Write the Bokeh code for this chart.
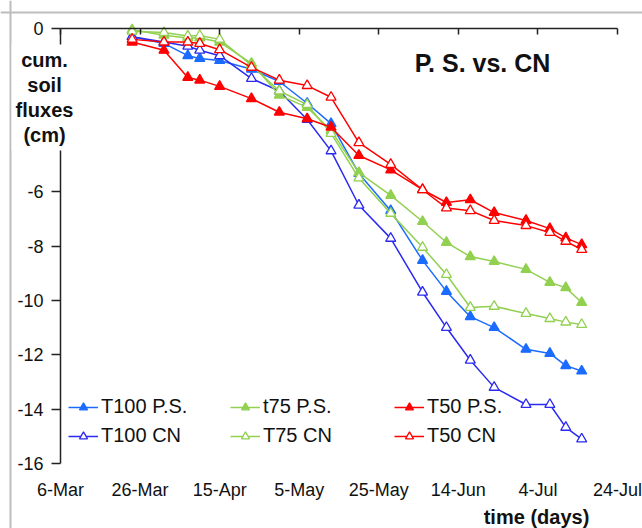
from datetime import datetime
from bokeh.plotting import figure
from bokeh.models import (Range1d, FixedTicker, LinearAxis, DatetimeAxis, Label,
                          Legend, LegendItem, Span)
from bokeh.embed import file_html
from bokeh.resources import INLINE

# ---------------- data ----------------
dates = ["2010-03-24", "2010-04-01", "2010-04-07", "2010-04-10", "2010-04-15",
         "2010-04-23", "2010-04-30", "2010-05-07", "2010-05-13", "2010-05-20",
         "2010-05-28", "2010-06-05", "2010-06-11", "2010-06-17", "2010-06-23",
         "2010-07-01", "2010-07-07", "2010-07-11", "2010-07-15"]

t100_ps = [-0.3, -0.55, -1.0, -1.1, -1.18, -1.5, -1.95, -2.75, -3.5, -5.33,
           -6.7, -8.53, -9.67, -10.6, -11.0, -11.8, -11.95, -12.4, -12.6]
t100_cn = [-0.3, -0.5, -0.65, -0.8, -1.0, -1.84, -2.3, -3.35, -4.5, -6.5,
           -7.72, -9.7, -11.0, -12.2, -13.2, -13.83, -13.83, -14.67, -15.1]
t75_ps = [-0.05, -0.25, -0.35, -0.35, -0.5, -1.28, -2.45, -2.9, -3.75, -5.3,
          -6.14, -7.1, -7.87, -8.39, -8.57, -8.86, -9.34, -9.53, -10.08]
t75_cn = [-0.1, -0.15, -0.28, -0.26, -0.4, -1.35, -2.3, -2.8, -3.86, -5.5,
          -6.8, -8.05, -9.05, -10.26, -10.22, -10.48, -10.67, -10.8, -10.89]
t50_ps = [-0.5, -0.8, -1.8, -1.9, -2.13, -2.58, -3.08, -3.32, -3.63, -4.67,
          -5.2, -5.93, -6.4, -6.3, -6.77, -7.06, -7.36, -7.7, -7.95]
t50_cn = [-0.4, -0.5, -0.5, -0.55, -0.78, -1.43, -1.9, -2.1, -2.53, -4.2,
          -5.0, -5.93, -6.6, -6.7, -7.06, -7.25, -7.5, -7.83, -8.13]

tick_dates = ["2010-03-06", "2010-03-26", "2010-04-15", "2010-05-05",
              "2010-05-25", "2010-06-14", "2010-07-04", "2010-07-24"]
tick_labels = ["6-Mar", "26-Mar", "15-Apr", "5-May", "25-May", "14-Jun",
               "4-Jul", "24-Jul"]
y_ticks = [0, -2, -4, -6, -8, -10, -12, -14, -16]
y_tick_labels = ["0", "", "", "-6", "-8", "-10", "-12", "-14", "-16"]

series = [
    ("T100 P.S.", t100_ps, "#1b6bff", True),
    ("T100 CN", t100_cn, "#2a2af0", False),
    ("t75 P.S.", t75_ps, "#92d050", True),
    ("T75 CN", t75_cn, "#92d050", False),
    ("T50 P.S.", t50_ps, "#ff0000", True),
    ("T50 CN", t50_cn, "#ff0000", False),
]

# ---------------- geometry ----------------
W, H = 642, 528
FX0, FX1, FY0, FY1 = 60, 617, 28, 463   # plot-area box in pixels
FONT = "Liberation Sans"
epoch = datetime(1970, 1, 1)

def ms(s):
    return (datetime.strptime(s, "%Y-%m-%d") - epoch).total_seconds() * 1000.0

xd = [ms(d) for d in dates]
tms = [ms(d) for d in tick_dates]
ymin, ymax = y_ticks[-1], y_ticks[0]

pxx = (FX1 - FX0) / (tms[-1] - tms[0])
pxy = (FY1 - FY0) / (ymax - ymin)
xr = Range1d(tms[0] - FX0 / pxx, tms[-1] + (W - FX1) / pxx)
yr = Range1d(ymin - (H - FY1) / pxy, ymax + FY0 / pxy)

p = figure(width=W, height=H, output_backend="svg", toolbar_location=None,
           x_axis_type=None, y_axis_type=None, x_range=xr, y_range=yr,
           min_border=0)
p.outline_line_color = None
p.background_fill_color = "white"
p.border_fill_color = "white"
p.xgrid.visible = False
p.ygrid.visible = False

# chart-area border (top and left edges)
p.add_layout(Span(location=yr.end - 12 / pxy, dimension="width",
                  line_color="#bdbdbd", line_width=2, level="underlay"))
p.add_layout(Span(location=xr.start + 10 / pxx, dimension="height",
                  line_color="#bdbdbd", line_width=2, level="underlay"))

# y axis
yax = LinearAxis(ticker=FixedTicker(ticks=y_ticks), fixed_location=tms[0],
                 bounds=(ymin, ymax))
yax.major_label_overrides = {t: l for t, l in zip(y_ticks, y_tick_labels)}
yax.axis_line_color = "#222222"
yax.axis_line_width = 1.5
yax.major_tick_line_color = "#222222"
yax.major_tick_line_width = 1.5
yax.major_tick_in = 0
yax.major_tick_out = 9
yax.minor_tick_line_color = None
yax.major_label_standoff = 8
yax.major_label_text_font = FONT
yax.major_label_text_font_size = "18px"
yax.major_label_text_color = "#111111"
p.add_layout(yax, "left")

# top axis (line + ticks only)
xtop = DatetimeAxis(ticker=FixedTicker(ticks=tms), fixed_location=ymax,
                    bounds=(tms[0], tms[-1]))
xtop.axis_line_color = "#222222"
xtop.axis_line_width = 1.5
xtop.major_tick_line_color = "#222222"
xtop.major_tick_line_width = 1.5
xtop.major_tick_in = 6
xtop.major_tick_out = 0
xtop.minor_tick_line_color = None
xtop.major_label_overrides = {t: "" for t in tms}
xtop.major_label_standoff = 0
p.add_layout(xtop, "above")

# bottom axis (labels only)
xbot = DatetimeAxis(ticker=FixedTicker(ticks=tms), fixed_location=ymin,
                    bounds=(tms[0], tms[-1]))
xbot.major_label_overrides = {t: l for t, l in zip(tms, tick_labels)}
xbot.axis_line_color = None
xbot.major_tick_line_color = None
xbot.minor_tick_line_color = None
xbot.major_tick_in = 0
xbot.major_tick_out = 0
xbot.major_label_standoff = 16
xbot.major_label_text_font = FONT
xbot.major_label_text_font_size = "18px"
xbot.major_label_text_color = "#111111"
p.add_layout(xbot, "below")

# series
items = {}
for name, vals, color, filled in series:
    lr = p.line(xd, vals, line_color=color, line_width=1.5)
    sr = p.scatter(xd, vals, marker="triangle", size=10, line_color=color,
                   line_width=1.3, fill_color=color if filled else "white")
    items[name] = LegendItem(label=name, renderers=[lr, sr])

def make_legend(names, x):
    lg = Legend(items=[items[n] for n in names], location=(x, H - 447),
                orientation="vertical")
    lg.background_fill_alpha = 0
    lg.border_line_color = None
    lg.padding = 0
    lg.margin = 0
    lg.spacing = 6
    lg.glyph_width = 30
    lg.glyph_height = 20
    lg.label_height = 20
    lg.label_standoff = 3
    lg.label_text_font = FONT
    lg.label_text_font_size = "20px"
    lg.label_text_color = "#111111"
    p.add_layout(lg, "center")

make_legend(["T100 P.S.", "T100 CN"], 68)
make_legend(["t75 P.S.", "T75 CN"], 230)
make_legend(["T50 P.S.", "T50 CN"], 394)

# texts
p.add_layout(Label(x=44, y=H - 97, x_units="screen", y_units="screen",
                   text="cum.\nsoil\nfluxes\n(cm)", text_align="center",
                   text_baseline="middle", text_font=FONT,
                   text_font_style="bold", text_font_size="20px",
                   text_line_height=1.15,
                   text_color="#111111", background_fill_color="white",
                   padding=4))
p.add_layout(Label(x=482, y=H - 62, x_units="screen", y_units="screen",
                   text="P. S. vs. CN", text_align="center",
                   text_baseline="middle", text_font=FONT,
                   text_font_style="bold", text_font_size="25px",
                   text_color="#111111"))
p.add_layout(Label(x=536, y=H - 516, x_units="screen", y_units="screen",
                   text="time (days)", text_align="center",
                   text_baseline="middle", text_font=FONT,
                   text_font_style="bold", text_font_size="20px",
                   text_color="#111111"))

open("out.html", "w").write(file_html(p, INLINE))
